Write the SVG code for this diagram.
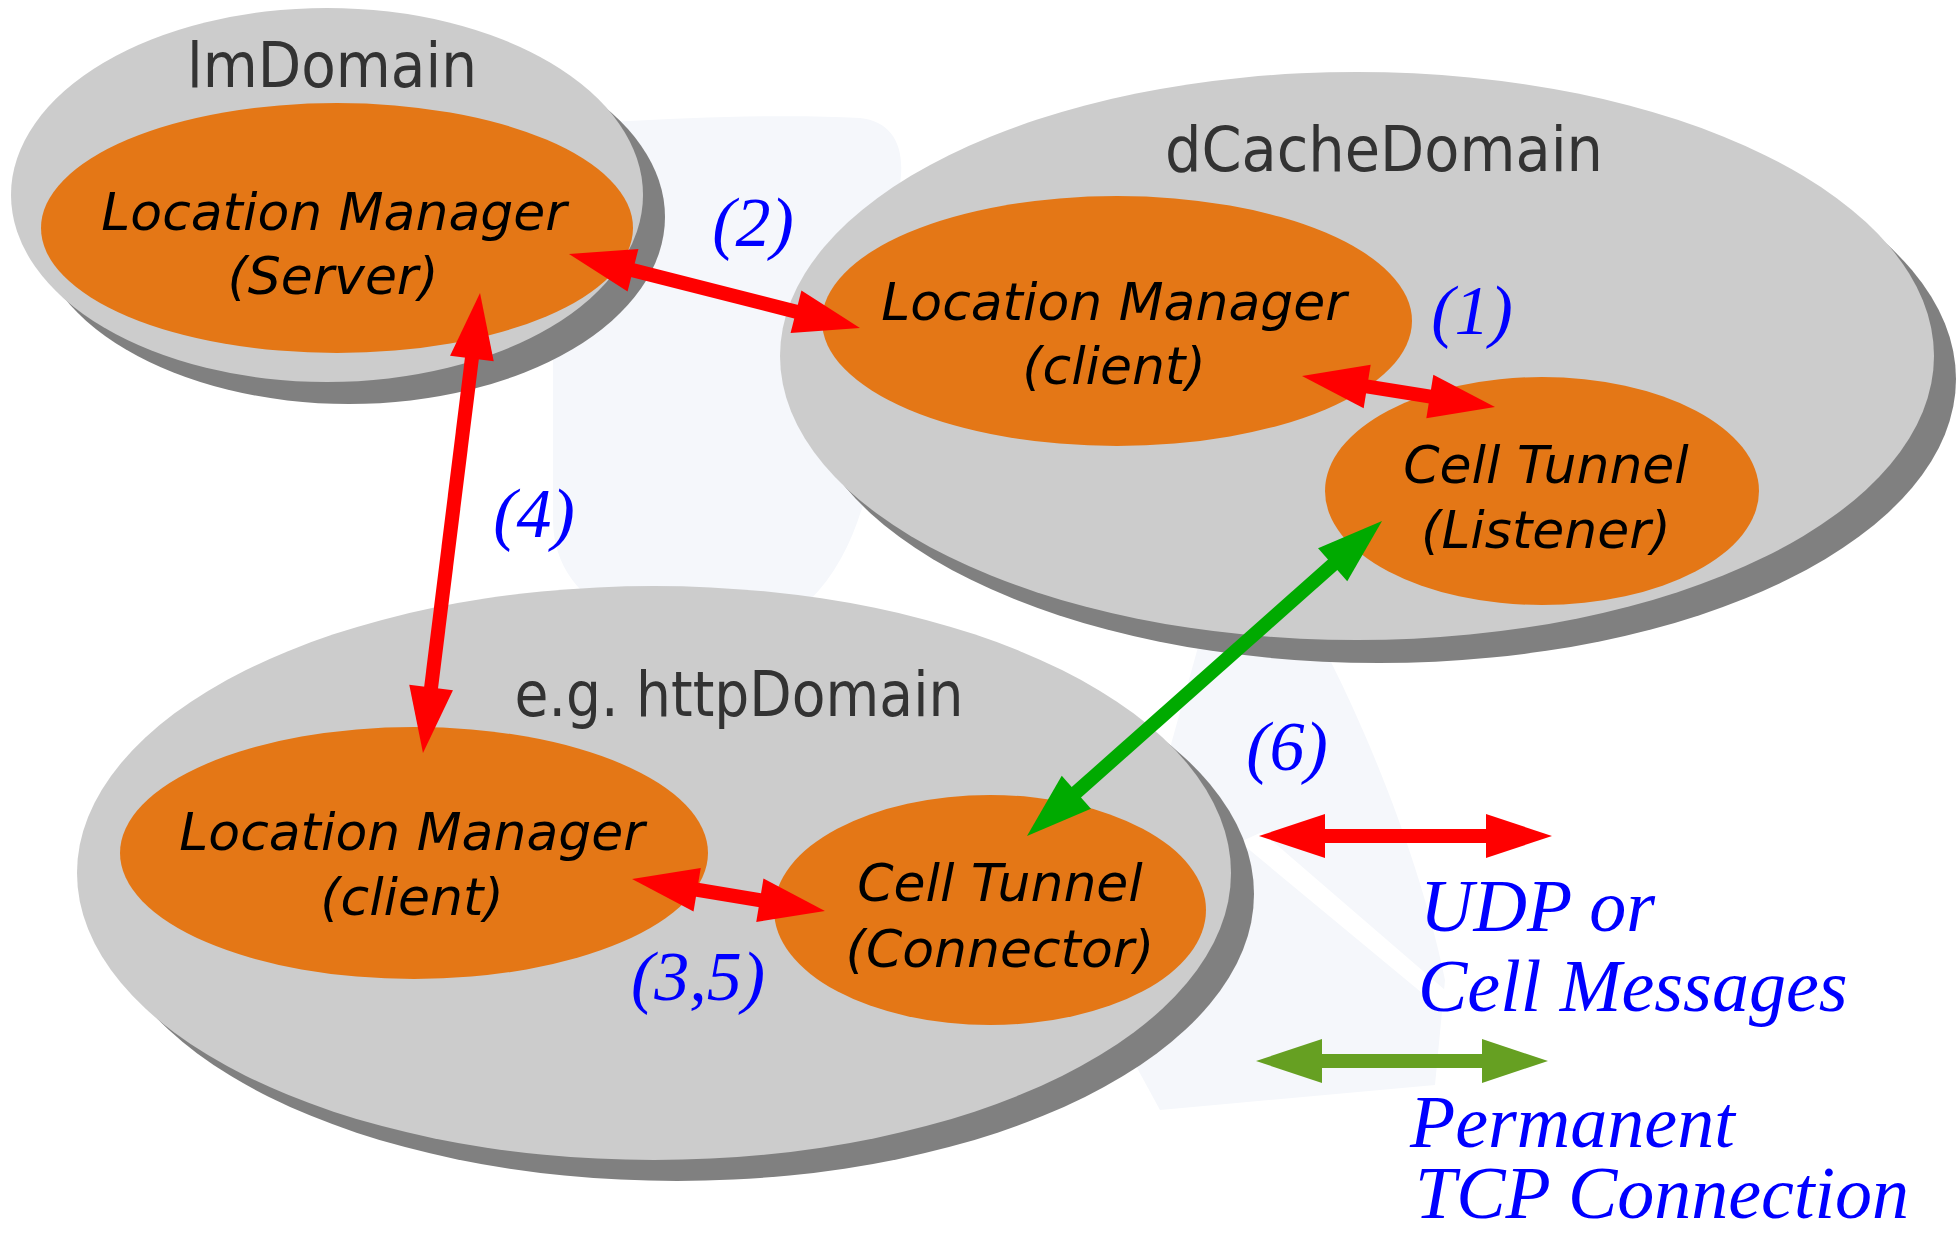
<svg xmlns="http://www.w3.org/2000/svg" width="1958" height="1234" viewBox="0 0 1958 1234">
<style>
.shadow{fill:#808080}
.domain{fill:#cccccc}
.node{fill:#e47716}
.dname{font-family:"DejaVu Sans","Liberation Sans",sans-serif;font-size:62px;fill:#333333;text-anchor:middle}
.ntext{font-family:"DejaVu Sans","Liberation Sans",sans-serif;font-style:italic;font-size:52px;fill:#000000;text-anchor:middle}
.lbl{font-family:"Liberation Serif",serif;font-style:italic;font-size:70px;fill:#0000ff;text-anchor:middle}
.leg{font-family:"Liberation Serif",serif;font-style:italic;font-size:74px;fill:#0000ff}
.red{stroke:#ff0000;stroke-width:14;fill:none}
.green{stroke:#00aa00;stroke-width:14;fill:none}
.olive{stroke:#66a022;stroke-width:14;fill:none}
</style>
<defs>
<marker id="hr" markerUnits="userSpaceOnUse" markerWidth="66" markerHeight="44" refX="26" refY="22" orient="auto-start-reverse" overflow="visible"><path d="M0,0 L66,22 L0,44 Z" fill="#ff0000"/></marker>
<marker id="hg" markerUnits="userSpaceOnUse" markerWidth="66" markerHeight="44" refX="26" refY="22" orient="auto-start-reverse" overflow="visible"><path d="M0,0 L66,22 L0,44 Z" fill="#00aa00"/></marker>
<marker id="ho" markerUnits="userSpaceOnUse" markerWidth="66" markerHeight="44" refX="26" refY="22" orient="auto-start-reverse" overflow="visible"><path d="M0,0 L66,22 L0,44 Z" fill="#66a022"/></marker>
</defs>
<rect x="0" y="0" width="1958" height="1234" fill="#ffffff"/>
<g id="background" fill="#f5f7fb">
<path d="M610,122 C700,117 790,114 860,118 C895,122 908,150 898,195 L880,420 C870,500 850,560 810,600 L620,615 C580,600 553,565 553,520 L553,355 L600,300 Z"/>
<path d="M1200,640 L1330,660 C1370,740 1420,860 1445,980 L1435,1085 L1160,1110 L1100,1000 Z"/>
<path d="M1240,842 L1262,832 L1445,990 L1445,1012 Z" fill="#ffffff"/>
</g>
<g id="lmDomain">
<ellipse class="shadow" cx="349" cy="217" rx="316" ry="187"/>
<ellipse class="domain" cx="327" cy="195" rx="316" ry="187"/>
<text class="dname" x="332" y="87" textLength="290" lengthAdjust="spacingAndGlyphs">lmDomain</text>
</g>
<g id="dCacheDomain">
<ellipse class="shadow" cx="1379" cy="379" rx="577" ry="284"/>
<ellipse class="domain" cx="1357" cy="356" rx="577" ry="284"/>
<text class="dname" x="1384" y="171" textLength="438" lengthAdjust="spacingAndGlyphs">dCacheDomain</text>
</g>
<g id="httpDomain">
<ellipse class="shadow" cx="677" cy="894" rx="577" ry="287"/>
<ellipse class="domain" cx="654" cy="873" rx="577" ry="287"/>
<text class="dname" x="739" y="716" textLength="449" lengthAdjust="spacingAndGlyphs">e.g. httpDomain</text>
</g>
<g id="lmServer">
<ellipse class="node" cx="337" cy="228" rx="296" ry="125"/>
<text class="ntext" x="334" y="230">Location Manager</text>
<text class="ntext" x="333" y="294">(Server)</text>
</g>
<g id="lmClientDcache">
<ellipse class="node" cx="1117" cy="321" rx="295" ry="125"/>
<text class="ntext" x="1114" y="320">Location Manager</text>
<text class="ntext" x="1114" y="384">(client)</text>
</g>
<g id="tunnelListener">
<ellipse class="node" cx="1542" cy="491" rx="217" ry="114"/>
<text class="ntext" x="1546" y="483">Cell Tunnel</text>
<text class="ntext" x="1546" y="548">(Listener)</text>
</g>
<g id="lmClientHttp">
<ellipse class="node" cx="414" cy="853" rx="294" ry="126"/>
<text class="ntext" x="412" y="850">Location Manager</text>
<text class="ntext" x="412" y="915">(client)</text>
</g>
<g id="tunnelConnector">
<ellipse class="node" cx="990" cy="910" rx="216" ry="115"/>
<text class="ntext" x="1000" y="901">Cell Tunnel</text>
<text class="ntext" x="1000" y="967">(Connector)</text>
</g>
<g id="connectors">
<line class="red" x1="607.8" y1="263.9" x2="821.2" y2="318.1" marker-start="url(#hr)" marker-end="url(#hr)"/>
<line class="red" x1="475.1" y1="332.7" x2="427.9" y2="713.3" marker-start="url(#hr)" marker-end="url(#hr)"/>
<line class="red" x1="1341.5" y1="382.3" x2="1455.5" y2="400.7" marker-start="url(#hr)" marker-end="url(#hr)"/>
<line class="green" x1="1352.1" y1="547.5" x2="1056.9" y2="809.5" marker-start="url(#hg)" marker-end="url(#hg)"/>
<line class="red" x1="671.5" y1="885.5" x2="785.5" y2="904.5" marker-start="url(#hr)" marker-end="url(#hr)"/>
</g>
<g id="labels">
<text class="lbl" x="753" y="246">(2)</text>
<text class="lbl" x="1472" y="334">(1)</text>
<text class="lbl" x="534" y="537">(4)</text>
<text class="lbl" x="1287" y="770">(6)</text>
<text class="lbl" x="698" y="1000">(3,5)</text>
</g>
<g id="legend">
<line class="red" x1="1299" y1="836" x2="1512" y2="836" marker-start="url(#hr)" marker-end="url(#hr)"/>
<line class="olive" x1="1296" y1="1061" x2="1508" y2="1061" marker-start="url(#ho)" marker-end="url(#ho)"/>
<text class="leg" x="1420" y="931">UDP or</text>
<text class="leg" x="1418" y="1011">Cell Messages</text>
<text class="leg" x="1410" y="1147">Permanent</text>
<text class="leg" x="1415" y="1218">TCP Connection</text>
</g>
</svg>
